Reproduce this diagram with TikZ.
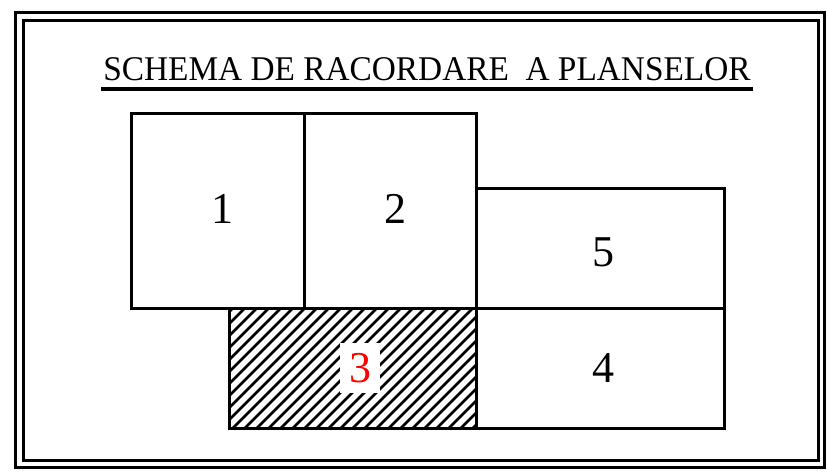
\documentclass[tikz,border=0pt]{standalone}
\usepackage{fontspec}
\setmainfont{Liberation Serif}
\begin{document}
\begin{tikzpicture}[x=1pt,y=-1pt,
  frameline/.style={line width=3pt},
  boxline/.style={line width=3pt},
  digit/.style={font=\fontsize{44}{44}\selectfont, inner sep=0pt},
  hatchline/.style={line width=2.6pt}]
\useasboundingbox (0,0) rectangle (828,472);
% frames
\draw[frameline] (15,12) rectangle (824,467);
\draw[frameline] (23,20) rectangle (818,460);
% title
\node[font=\fontsize{33}{33}\selectfont, anchor=base, inner sep=0pt] (title) at (427,80) {\scalebox{1.01}[1.05]{SCHEMA DE RACORDARE\ \ A PLANSELOR}};
\draw[line width=3.5pt] (101,89) -- (753,89);
% hatch of sheet 3
\begin{scope}
\clip (229,308) rectangle (476,428);
\foreach \i in {0,...,32} {
  \draw[hatchline] (229-130+\i*12,430) -- ++(140,-140);
}
\end{scope}
% sheets
\draw[boxline] (131,113) rectangle (304,308);
\draw[boxline] (304,113) rectangle (476,308);
\draw[boxline] (476,188) rectangle (724,308);
\draw[boxline] (476,308) rectangle (724,428);
\draw[boxline] (229,308) rectangle (476,428);
% labels
\node[digit] (n1) at (222,209) {1};
\node[digit] (n2) at (395,209) {2};
\node[digit] (n5) at (603,252) {5};
\node[digit] (n4) at (603,368) {4};
\node[digit, text=red, fill=white, inner xsep=9pt, inner ysep=10pt] (n3) at (360,368) {3};
\end{tikzpicture}
\end{document}
